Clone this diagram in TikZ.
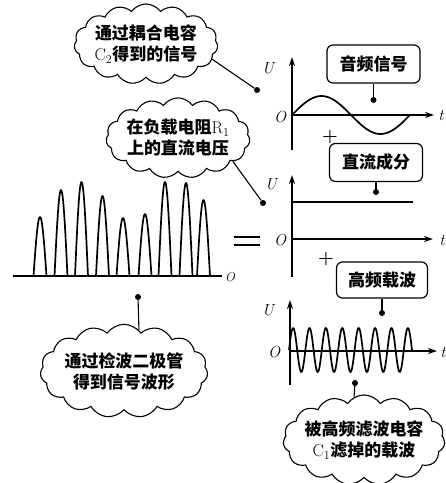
\documentclass[tikz,border=0pt]{standalone}
\usepackage{fontspec}
\newfontfamily\cjk{Noto Sans CJK SC}
\usetikzlibrary{arrows.meta,positioning,shapes.symbols}

\begin{document}
\begin{tikzpicture}[
    x=1pt, y=-1pt,
    axis/.style={line width=1.6pt, -{Stealth[length=9pt, width=6pt]}},
    wave/.style={line width=1.7pt, line join=round},
    bubble/.style={draw, cloud, cloud puffs=15, cloud puff arc=110, aspect=2.1, line width=1.1pt, fill=white, inner sep=-2pt, font=\cjk\bfseries\fontsize{17}{21}\selectfont, align=center},
    tag/.style={draw, rounded corners=6pt, line width=1.2pt, minimum width=93pt, minimum height=38pt, font=\cjk\bfseries\fontsize{17}{21}\selectfont},
    pin/.style={line width=1.1pt},
    dot/.style={circle, fill, inner sep=0pt, minimum size=6pt},
    lbl/.style={font=\fontsize{16}{16}\selectfont\itshape},
    sign/.style={font=\bfseries\fontsize{18}{18}\selectfont}
]
\useasboundingbox (0,0) rectangle (446,483);

% left: detected signal
\draw[wave] (13,276) -- (222,276);
\foreach \c/\h in {40/59, 61/86, 81.5/94, 102.5/80, 123/58, 145/62, 165/94, 186/93, 203.5/76}
  \draw[wave] plot[domain=0:180, samples=25] ({\c-6.5+\x/180*13}, {276-\h*sin(\x)});
\node[lbl, font=\fontsize{13}{13}\selectfont\itshape] (o0) at (230,277) {O};

% equals sign
\draw[line width=1.8pt] (234,237) -- (260,237);
\draw[line width=1.8pt] (234,245) -- (260,245);

% top: audio signal
\draw[axis] (292,150) -- (292,57);
\draw[axis] (292,115) -- (434,115);
\draw[wave] plot[domain=0:360, samples=60] ({292+\x/360*118}, {115-19*sin(\x)});
\node[lbl] (u1) at (268,68) {U};
\node[lbl] (o1) at (280,117) {O};
\node[lbl] (t1) at (441,116) {t};

\node[sign] (plus1) at (330,137) {+};

% middle: DC component
\draw[axis] (292,277) -- (292,175);
\draw[axis] (292,239) -- (433,239);
\draw[wave] (292,202) -- (413,202);
\node[lbl] (u2) at (271,184) {U};
\node[lbl] (o2) at (280,240) {O};
\node[lbl] (t2) at (442,241) {t};

\node[sign] (plus2) at (326,259) {+};

% bottom: carrier
\draw[axis] (290,385) -- (290,300);
\draw[axis] (290,351) -- (437,351);
\draw[wave] plot[domain=0:2700, samples=300] ({289+\x/2700*123}, {350-22*sin(\x)});
\node[lbl] (u3) at (268,310) {U};
\node[lbl] (o3) at (274,352) {O};
\node[lbl] (t3) at (443,353) {t};

% boxes
\node[tag] (b1) at (373.5,64) {音频信号};
\node[tag] (b2) at (376,162.5) {直流成分};
\node[tag, minimum width=91pt, minimum height=36pt] (b3) at (382,280) {高频载波};
\node[dot] (p1) at (373.5,100) {};
\node[dot] (p2) at (376,192) {};
\node[dot] (p3) at (382,313) {};
\draw[pin] (b1) -- (p1);
\draw[pin] (b2) -- (p2);
\draw[pin] (b3) -- (p3);

% clouds
\node[bubble] (c1) at (146,44) {通过耦合电容\\$\mathrm{C}_2$得到的信号};
\node[bubble] (c2) at (178,138) {在负载电阻$\mathrm{R}_1$\\上的直流电压};
\node[bubble] (c4) at (124,371) {通过检波二极管\\得到信号波形};
\node[bubble, inner sep=-4pt] (c3) at (364,440) {被高频滤波电容\\$\mathrm{C}_1$滤掉的载波};

\node[dot] (d1) at (257,90) {};
\node[dot] (d2) at (263,203) {};
\node[dot] (d4) at (138,297) {};
\node[dot] (d3) at (355,383) {};
\draw[pin] (c1.-13) -- (d1);
\draw[pin] (c2.-23) -- (d2);
\draw[pin] (d4) -- (c4.70);
\draw[pin] (d3) -- (c3.103);
\end{tikzpicture}
\end{document}
